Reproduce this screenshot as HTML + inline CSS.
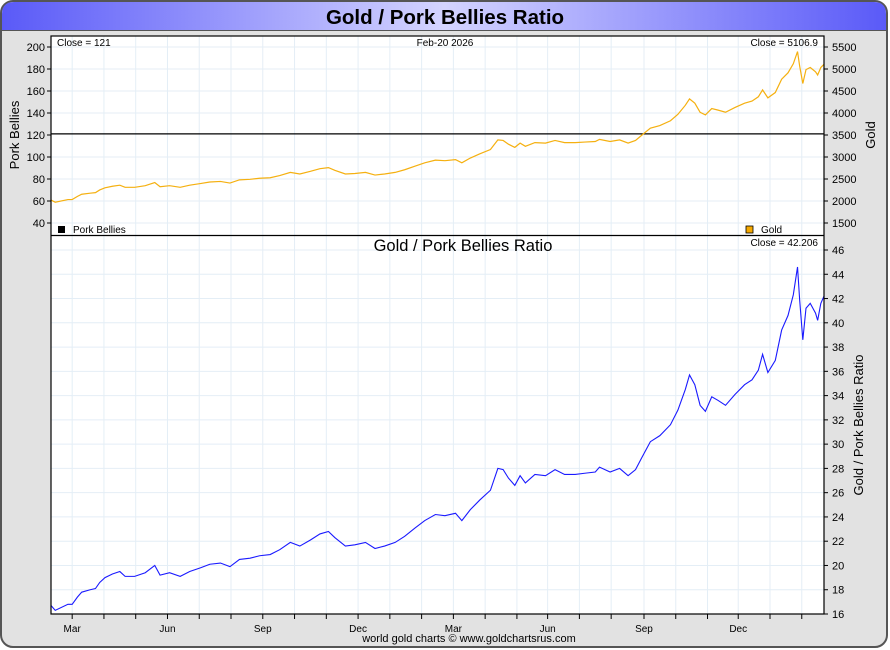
<!DOCTYPE html>
<html><head><meta charset="utf-8">
<style>
html,body{margin:0;padding:0;background:#fff;}
svg{display:block;font-family:"Liberation Sans",Arial,sans-serif;}
</style></head>
<body>
<svg id="chart" width="890" height="650" viewBox="0 0 890 650" xmlns="http://www.w3.org/2000/svg">
<defs>
<linearGradient id="tb" x1="0" x2="1" y1="0" y2="0">
<stop offset="0" stop-color="#5a5af8"/><stop offset="0.5" stop-color="#d4d4ff"/><stop offset="1" stop-color="#5a5af8"/>
</linearGradient>
</defs>
<rect x="1" y="1" width="886" height="646" rx="12" fill="#e2e2e2" stroke="#555" stroke-width="2"/>
<path d="M2,30 L2,14 Q2,2 14,2 L874,2 Q886,2 886,14 L886,30 Z" fill="url(#tb)"/>
<line x1="2" y1="30.5" x2="886" y2="30.5" stroke="#555" stroke-width="1"/>
<text x="445" y="24" text-anchor="middle" font-size="20.5" font-weight="bold" fill="#000">Gold / Pork Bellies Ratio</text>
<rect x="51" y="36" width="773" height="578" fill="#fff"/>
<g id="grid"></g>
<g id="series"></g>
<g id="axes"></g>
<rect x="51" y="36" width="773" height="578" fill="none" stroke="#000" stroke-width="1.2"/>
<line x1="51" y1="235.5" x2="824" y2="235.5" stroke="#000" stroke-width="1.2"/>
<text x="57" y="46" font-size="10">Close = 121</text>
<text x="445" y="46" font-size="10" text-anchor="middle">Feb-20  2026</text>
<text x="818" y="46" font-size="10" text-anchor="end">Close = 5106.9</text>
<rect x="58" y="226" width="7" height="7" fill="#000"/>
<text x="73" y="233" font-size="10">Pork Bellies</text>
<rect x="746" y="226" width="7" height="7" fill="#f5a800" stroke="#000" stroke-width="0.8"/>
<text x="761" y="233" font-size="10">Gold</text>
<text x="463" y="251" font-size="16.5" text-anchor="middle">Gold  /  Pork Bellies Ratio</text>
<text x="818" y="246" font-size="10" text-anchor="end">Close = 42.206</text>
<text transform="translate(19,135) rotate(-90)" font-size="13" text-anchor="middle">Pork Bellies</text>
<text transform="translate(875,135) rotate(-90)" font-size="13" text-anchor="middle">Gold</text>
<text transform="translate(863,425) rotate(-90)" font-size="13" text-anchor="middle">Gold / Pork Bellies Ratio</text>
<text x="469" y="642" font-size="11" text-anchor="middle">world gold charts © www.goldchartsrus.com</text>
</svg>
<script>
const NS="http://www.w3.org/2000/svg";
const days=[0,4,16,20,25,29,37,42,46,51,58,65,70,79,89,98,103,112,122,131,141,150,160,169,178,188,197,207,216,226,235,245,254,262,268,278,287,297,306,315,325,334,344,353,363,372,382,388,396,405,415,422,427,432,438,443,448,457,467,476,485,495,504,514,518,528,537,545,552,558,566,575,585,592,599,603,608,613,618,624,630,637,646,655,662,668,672,677,684,690,696,701,705,707,710,713,717,722,724,727,730];
const ratioValues=[16.7,16.3,16.8,16.8,17.4,17.8,18.0,18.1,18.6,19.0,19.3,19.5,19.1,19.1,19.4,20.0,19.2,19.4,19.1,19.5,19.8,20.1,20.2,19.9,20.5,20.6,20.8,20.9,21.3,21.9,21.6,22.1,22.6,22.8,22.3,21.6,21.7,21.9,21.4,21.6,21.9,22.4,23.1,23.7,24.2,24.1,24.3,23.7,24.6,25.4,26.2,28.0,27.9,27.2,26.6,27.4,26.8,27.5,27.4,27.9,27.5,27.5,27.6,27.7,28.1,27.7,28.0,27.4,27.9,28.9,30.2,30.7,31.6,32.8,34.5,35.7,34.9,33.2,32.7,33.9,33.6,33.2,34.1,34.9,35.3,36.1,37.4,35.9,36.9,39.4,40.6,42.3,44.6,41.9,38.6,41.2,41.6,40.8,40.2,41.6,42.2];
const porkBellies=121;
const porkTicks=[40,60,80,100,120,140,160,180,200];
const goldTicks=[1500,2000,2500,3000,3500,4000,4500,5000,5500];
const ratioTicks=[16,18,20,22,24,26,28,30,32,34,36,38,40,42,44,46];
const monthLabels=["Mar","","","Jun","","","Sep","","","Dec","","","Mar","","","Jun","","","Sep","","","Dec","",""];
const monthDays=[20,50,80,110,140,170,200,230,260,290,320,350,380,410,440,469,499,529,560,590,620,649,679,709];

const X0=51,X1=824,DMAX=730;
const xs=d=>X0+(d/DMAX)*(X1-X0);
const yPork=v=>223-(v-40)*(176/160);
const yGold=v=>223-(v-1500)*(176/4000);
const yRatio=v=>614-(v-16)*(364/30);
const goldValues=ratioValues.map(r=>r*porkBellies);

const grid=document.getElementById('grid'),series=document.getElementById('series'),axes=document.getElementById('axes');
function mk(tag,attrs,parent){const e=document.createElementNS(NS,tag);for(const k in attrs)e.setAttribute(k,attrs[k]);parent.appendChild(e);return e;}

monthDays.forEach((d,i)=>{
  const x=xs(d);
  const g=mk('line',{x1:x,x2:x,y1:36,y2:614,stroke:'#e4eef6','stroke-width':1},grid);
  
  
  const t=mk('line',{x1:x,x2:x,y1:614,y2:619,stroke:'#000'},axes);
  
  
  if(monthLabels[i]){
    const l=mk('text',{x:x,y:632,'font-size':10,'text-anchor':'middle'},axes);
    l.textContent=monthLabels[i];
    
    
  }
});
porkTicks.forEach(v=>{
  const y=yPork(v);
  if(v!==120){const g=mk('line',{x1:X0,x2:X1,y1:y,y2:y,stroke:'#e4eef6'},grid);
  
  }
  mk('line',{x1:X0-4,x2:X0,y1:y,y2:y,stroke:'#000'},axes);
  const l=mk('text',{x:X0-6,y:y+4,'font-size':11,'text-anchor':'end'},axes);
  l.textContent=v;
  
  
});
goldTicks.forEach(v=>{
  const y=yGold(v);
  mk('line',{x1:X1,x2:X1+4,y1:y,y2:y,stroke:'#000'},axes);
  const l=mk('text',{x:X1+8,y:y+4,'font-size':11},axes);
  l.textContent=v;
  
  
});
ratioTicks.forEach(v=>{
  const y=yRatio(v);
  const g=mk('line',{x1:X0,x2:X1,y1:y,y2:y,stroke:'#e4eef6'},grid);
  
  
  mk('line',{x1:X1,x2:X1+4,y1:y,y2:y,stroke:'#000'},axes);
  const l=mk('text',{x:X1+8,y:y+4,'font-size':11},axes);
  l.textContent=v;
  
  
});
const pork=mk('line',{x1:X0,x2:X1,y1:yPork(porkBellies),y2:yPork(porkBellies),stroke:'#000','stroke-width':1.2},series);


const gl=mk('polyline',{points:goldValues.map((v,i)=>xs(days[i])+','+yGold(v)).join(' '),fill:'none',stroke:'#f5b010','stroke-width':1.2},series);


const rl=mk('polyline',{points:ratioValues.map((v,i)=>xs(days[i])+','+yRatio(v)).join(' '),fill:'none',stroke:'#1a1aff','stroke-width':1.1},series);


</script>
</body></html>
